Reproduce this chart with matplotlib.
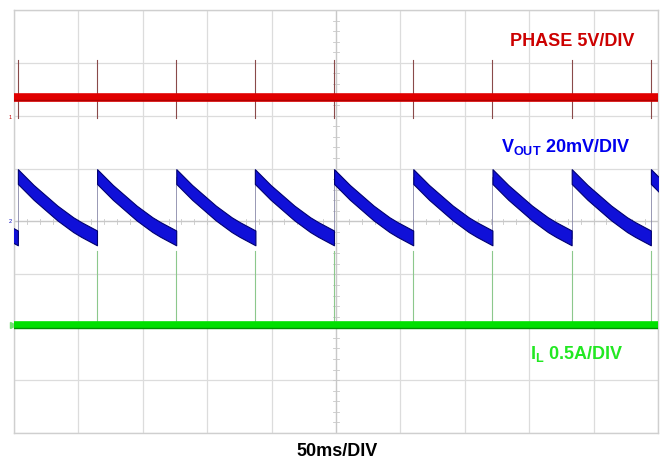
import numpy as np
import matplotlib.pyplot as plt

plt.rcParams['font.family'] = ['Liberation Sans', 'DejaVu Sans']
plt.rcParams['mathtext.fontset'] = 'custom'
plt.rcParams['mathtext.rm'] = 'Liberation Sans:bold'
plt.rcParams['mathtext.bf'] = 'Liberation Sans:bold'

# scope screen in divisions: 10 horizontal (50ms each), 8 vertical
spike_times = [0.06, 1.29, 2.52, 3.74, 4.97, 6.20, 7.43, 8.66, 9.89]

phase_level = 2.36          # div
phase_spike_top = 3.05
phase_spike_bot = 1.96

il_level = -1.95
il_spike_top = -0.55

# Vout sawtooth, one cycle (fraction of period, div)
vout_frac = [0.0, 0.1, 0.2, 0.3, 0.4, 0.5, 0.6, 0.7, 0.8, 0.9, 1.0]
vout_div = [0.85, 0.70, 0.55, 0.42, 0.29, 0.16, 0.05, -0.06, -0.15, -0.23, -0.31]
vout_band = 0.28

fig = plt.figure(figsize=(6.64, 4.62), dpi=100)
ax = fig.add_axes([14/664, 29/462, 644/664, 423/462])
ax.set_xlim(0, 10)
ax.set_ylim(-4, 4)

# graticule
for gx in range(11):
    ax.axvline(gx, color='#dcdcdc', lw=0.9, zorder=0)
for gy in range(-4, 5):
    ax.axhline(gy, color='#dcdcdc', lw=0.9, zorder=0)
ax.axvline(5, color='#c8c8c8', lw=0.9, zorder=0)
ax.axhline(0, color='#c8c8c8', lw=0.9, zorder=0)
for t in np.arange(0, 10.01, 0.2):
    ax.plot([t, t], [-0.04, 0.04], color='#c8c8c8', lw=0.6, zorder=0)
for t in np.arange(-4, 4.01, 0.2):
    ax.plot([4.96, 5.04], [t, t], color='#c8c8c8', lw=0.6, zorder=0)
for s in ax.spines.values():
    s.set_color('#cfcfcf')
    s.set_linewidth(1.0)
ax.set_xticks([])
ax.set_yticks([])

# PHASE
for t in spike_times:
    ax.plot([t, t], [phase_spike_bot, phase_spike_top], color='#8a4a4a', lw=0.8, zorder=2)
ax.axhline(phase_level, color='#e00000', lw=6.2, zorder=3)
ax.axhline(phase_level - 0.07, color='#b00000', lw=1.0, zorder=3)

# VOUT
period = np.mean(np.diff(spike_times))
starts = [spike_times[0] - period] + spike_times
frac = np.array(vout_frac)
vals = np.array(vout_div)
for t0 in starts:
    xs = t0 + frac * period
    ax.fill_between(xs, vals - vout_band / 2, vals + vout_band / 2,
                    color='#1010d8', edgecolor='#000070', lw=0.8, zorder=3)
    ax.plot([xs[-1], xs[-1]], [vals[-1], vals[0]], color='#8888a8', lw=0.6, zorder=2)

# IL
for t in spike_times[1:]:
    ax.plot([t, t], [il_level, il_spike_top], color='#8cc88c', lw=0.8, zorder=2)
ax.axhline(il_level, color='#00e000', lw=5.5, zorder=3)
ax.axhline(il_level - 0.06, color='#009000', lw=1.0, zorder=3)

# channel markers
ax.text(-0.03, 1.97, '1', color='#c00000', fontsize=4, ha='right', va='center', clip_on=False)
ax.text(-0.03, 0.0, '2', color='#0000c0', fontsize=4, ha='right', va='center', clip_on=False)
ax.plot([-0.02], [il_level], marker='>', ms=4, color='#70e070', clip_on=False)

ax.text(8.66, 3.4, 'PHASE 5V/DIV', color='#cc0000', fontsize=13, weight='bold', ha='center', va='center')
ax.text(8.56, 1.4, r'V$_{\mathbf{OUT}}$ 20mV/DIV', color='#0000ee', fontsize=13, weight='bold', ha='center', va='center')
ax.text(8.74, -2.5, r'I$_{\mathbf{L}}$ 0.5A/DIV', color='#22e822', fontsize=13, weight='bold', ha='center', va='center')
fig.text(337/664, 1 - 451/462, '50ms/DIV', color='black', fontsize=13, weight='bold', ha='center', va='center')

fig.savefig('out.png', dpi=100)
